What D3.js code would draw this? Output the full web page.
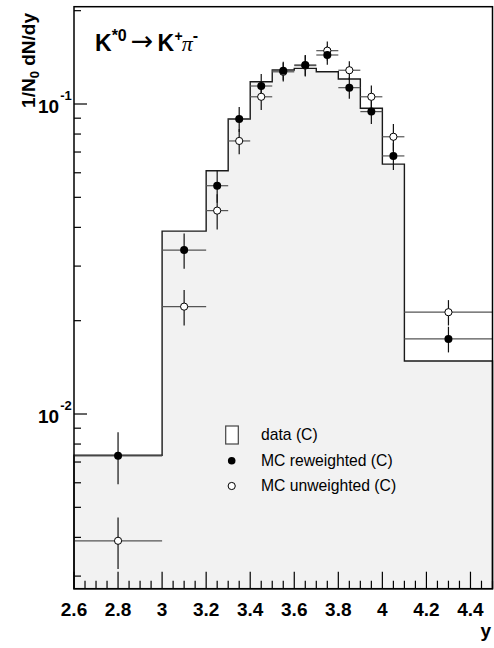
<!DOCTYPE html>
<html><head><meta charset="utf-8">
<script src="https://cdn.jsdelivr.net/npm/d3@7"></script>
<style>
html,body{margin:0;padding:0;background:#fff;}
svg{display:block;}
text{font-family:"Liberation Sans",Arial,Helvetica,sans-serif;}
</style></head>
<body>
<svg id="chart" width="494" height="648"></svg>
<script>
// ---------- data ----------
const binEdges   = [2.6, 3.0, 3.2, 3.3, 3.4, 3.5, 3.6, 3.7, 3.8, 3.9, 4.0, 4.1, 4.5];
const dataValues = [0.00736, 0.0389, 0.0609, 0.0895, 0.118, 0.1287, 0.1303, 0.1271, 0.1204, 0.0969, 0.0640, 0.01482];
const binCenters = [2.8, 3.1, 3.25, 3.35, 3.45, 3.55, 3.65, 3.75, 3.85, 3.95, 4.05, 4.3];
const mcReweighted    = [0.00733, 0.0338, 0.0545, 0.0895, 0.1143, 0.128, 0.1337, 0.1439, 0.1129, 0.0945, 0.068, 0.01746];
const mcReweightedErr = [0.0014, 0.0044, 0.0065, 0.0083, 0.0106, 0.0088, 0.0103, 0.010, 0.009, 0.0083, 0.0068, 0.00166];
const mcUnweighted    = [0.0039, 0.0222, 0.0453, 0.076, 0.1055, 0.127, 0.133, 0.1486, 0.1285, 0.1055, 0.0784, 0.0213];
const mcUnweightedErr = [0.00074, 0.0029, 0.0059, 0.0071, 0.0098, 0.0088, 0.0103, 0.0104, 0.0089, 0.0093, 0.0078, 0.002];
const xTickValues = [2.6, 2.8, 3.0, 3.2, 3.4, 3.6, 3.8, 4.0, 4.2, 4.4];
const xTickLabels = ["2.6", "2.8", "3", "3.2", "3.4", "3.6", "3.8", "4", "4.2", "4.4"];
const yMajorTicks = [0.01, 0.1];
const yMajorExp   = ["-2", "-1"];
const xDomain = [2.6, 4.5];
const yDomain = [0.002732, 0.206];
const legendLabels = ["data (C)", "MC reweighted (C)", "MC unweighted (C)"];

// ---------- layout ----------
const L = 74, R = 492.5, T = 6.7, B = 588.7;
const svg = d3.select("#chart");
const x = d3.scaleLinear().domain(xDomain).range([L, R]);
const y = d3.scaleLog().domain(yDomain).range([B, T]);

// histogram fill + outline
let p = d3.path();
p.moveTo(x(binEdges[0]), B);
dataValues.forEach((v, i) => {
  p.lineTo(x(binEdges[i]), y(v));
  p.lineTo(x(binEdges[i + 1]), y(v));
});
p.lineTo(x(binEdges[binEdges.length - 1]), B);
p.closePath();
svg.append("path").attr("d", p.toString()).attr("fill", "#f2f2f2").attr("stroke", "#1a1a1a").attr("stroke-width", 1.4);

// error bars
function drawErrors(vals, errs) {
  const g = svg.append("g");
  vals.forEach((v, i) => {
    const cx = x(binCenters[i]);
    g.append("line").attr("x1", x(binEdges[i])).attr("x2", x(binEdges[i + 1]))
      .attr("y1", y(v)).attr("y2", y(v)).attr("stroke", "#555").attr("stroke-width", 1.2);
    g.append("line").attr("x1", cx).attr("x2", cx)
      .attr("y1", y(v + errs[i])).attr("y2", y(v - errs[i])).attr("stroke", "#111").attr("stroke-width", 1.2);
  });
}
drawErrors(mcReweighted, mcReweightedErr);
drawErrors(mcUnweighted, mcUnweightedErr);

// markers
svg.append("g").selectAll("circle").data(mcUnweighted).join("circle")
  .attr("cx", (d, i) => x(binCenters[i])).attr("cy", d => y(d)).attr("r", 3.6)
  .attr("fill", "#fff").attr("stroke", "#000").attr("stroke-width", 1);
svg.append("g").selectAll("circle").data(mcReweighted).join("circle")
  .attr("cx", (d, i) => x(binCenters[i])).attr("cy", d => y(d)).attr("r", 4)
  .attr("fill", "#000");

// frame
svg.append("rect").attr("x", L).attr("y", T).attr("width", R - L).attr("height", B - T)
  .attr("fill", "none").attr("stroke", "#000").attr("stroke-width", 1.5);

// x ticks
const xMinor = d3.range(2.6, 4.5001, 0.05).map(v => Math.round(v * 100) / 100);
svg.append("g").selectAll("line").data(xMinor).join("line")
  .attr("x1", d => x(d)).attr("x2", d => x(d))
  .attr("y1", B).attr("y2", d => (Math.abs(Math.round(d * 5) - d * 5) < 1e-6 ? B - 17 : B - 8))
  .attr("stroke", "#000").attr("stroke-width", 1.2);
svg.append("g").selectAll("text").data(xTickValues).join("text")
  .attr("x", d => x(d)).attr("y", 616).attr("text-anchor", "middle")
  .attr("font-size", 19).attr("font-weight", "bold").text((d, i) => xTickLabels[i]);

// y ticks
const yMinor = [];
[0.001, 0.01, 0.1].forEach(dec => { for (let k = 2; k <= 9; k++) { const v = k * dec; if (v >= yDomain[0] && v <= yDomain[1]) yMinor.push(v); } });
svg.append("g").selectAll("line").data(yMinor).join("line")
  .attr("x1", L).attr("x2", L + 7).attr("y1", d => y(d)).attr("y2", d => y(d))
  .attr("stroke", "#000").attr("stroke-width", 1.2);
svg.append("g").selectAll("line").data(yMajorTicks).join("line")
  .attr("x1", L).attr("x2", L + 13).attr("y1", d => y(d)).attr("y2", d => y(d))
  .attr("stroke", "#000").attr("stroke-width", 1.2);
yMajorTicks.forEach((v, i) => {
  const tx = svg.append("text").attr("x", 38).attr("y", y(v) + 9.3)
    .attr("font-size", 19).attr("font-weight", "bold");
  tx.append("tspan").text("10");
  tx.append("tspan").attr("font-size", 13).attr("dx", 1).attr("dy", -13.3).text(yMajorExp[i]);
});

// axis titles
svg.append("text").attr("x", 491).attr("y", 637).attr("text-anchor", "end")
  .attr("font-size", 19).attr("font-weight", "bold").text("y");
const yt = svg.append("text").attr("transform", "translate(35,13) rotate(-90)").attr("text-anchor", "end")
  .attr("font-size", 19).attr("font-weight", "bold");
yt.append("tspan").text("1/N");
yt.append("tspan").attr("font-size", 13).attr("dy", 4).text("0");
yt.append("tspan").attr("dy", -4).text(" dN/dy");

// title label (single text with tspans)
const t = svg.append("text").attr("x", 95).attr("y", 51).attr("font-size", 23).attr("font-weight", "bold");
t.append("tspan").text("K");
t.append("tspan").attr("font-size", 16).attr("dy", -10).text("*0");
t.append("tspan").attr("font-size", 27).attr("font-weight", "normal").attr("font-family", "DejaVu Sans, sans-serif")
  .attr("dx", 4).attr("dy", 9).text("\u2192");
t.append("tspan").attr("dx", 4).attr("dy", 1).text("K");
t.append("tspan").attr("font-size", 14).attr("dx", 0.5).attr("dy", -10).text("+");
t.append("tspan").attr("font-size", 22).attr("font-weight", "normal").attr("font-style", "italic").attr("font-family", "Liberation Serif, serif")
  .attr("dx", -1).attr("dy", 10).text("\u03C0");
t.append("tspan").attr("font-size", 16).attr("dx", 0).attr("dy", -10).text("-");

// legend
const lg = svg.append("g");
lg.append("rect").attr("x", 225.7).attr("y", 426).attr("width", 12.6).attr("height", 18)
  .attr("fill", "#fff").attr("stroke", "#444").attr("stroke-width", 1.2);
lg.append("circle").attr("cx", 231.7).attr("cy", 460.7).attr("r", 3.8).attr("fill", "#000");
lg.append("circle").attr("cx", 231.7).attr("cy", 486).attr("r", 3.6).attr("fill", "#fff").attr("stroke", "#000");
lg.selectAll("text.l").data(legendLabels).join("text").attr("class", "l")
  .attr("x", 261).attr("y", (d, i) => 440 + i * 25.5).attr("font-size", 15.7).text(d => d);
</script>
</body></html>
